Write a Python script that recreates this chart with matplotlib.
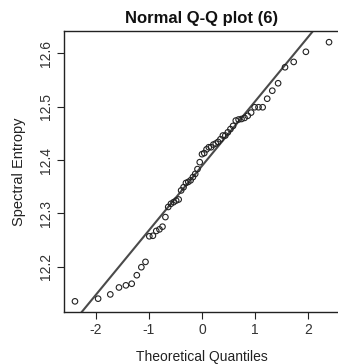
import matplotlib
matplotlib.use("Agg")
import matplotlib.pyplot as plt
import numpy as np
from statistics import NormalDist

plt.rcParams['font.family'] = ['Liberation Sans', 'DejaVu Sans']

title = "Normal Q-Q plot (6)"
xlabel = "Theoretical Quantiles"
ylabel = "Spectral Entropy"

sample = [12.135, 12.140, 12.148, 12.161, 12.165, 12.168, 12.184, 12.199, 12.209, 12.257,
          12.258, 12.267, 12.270, 12.275, 12.293, 12.312, 12.318, 12.321, 12.324, 12.326,
          12.343, 12.349, 12.357, 12.359, 12.362, 12.368, 12.374, 12.383, 12.396, 12.411,
          12.413, 12.420, 12.424, 12.424, 12.429, 12.431, 12.434, 12.439, 12.446, 12.446,
          12.452, 12.458, 12.464, 12.474, 12.476, 12.477, 12.479, 12.483, 12.489, 12.499,
          12.499, 12.499, 12.515, 12.530, 12.544, 12.574, 12.584, 12.603, 12.621]

line_intercept = 12.389
line_slope = 0.1212

xticks = [-2, -1, 0, 1, 2]
yticks = [12.2, 12.3, 12.4, 12.5, 12.6]

n = len(sample)
nd = NormalDist()
theo = [nd.inv_cdf((i + 0.5) / n) for i in range(n)]
ys = sorted(sample)

fig = plt.figure(figsize=(3.38, 3.64), dpi=100)
ax = fig.add_axes([64/338, 1 - 312/364, 276/338, 281/364])

ax.scatter(theo, ys, s=16, facecolors='none', edgecolors='#222222', linewidths=0.8, zorder=3)
ax.axline((0, line_intercept), slope=line_slope, color='#4a4a4a', lw=1.5, zorder=2)

ax.set_xlim(-2.594, 2.594)
ax.set_ylim(12.115, 12.642)
ax.set_xticks(xticks)
ax.set_xticklabels([str(t) for t in xticks])
ax.set_yticks(yticks)
ax.set_yticklabels([f"{t:.1f}" for t in yticks], rotation=90, va='center')
ax.tick_params(axis='both', direction='out', length=5, width=0.8, colors='#222222',
               labelsize=10, labelcolor='#333333', pad=3)
for s in ax.spines.values():
    s.set_linewidth(1.0)
    s.set_color('#222222')

ax.set_title(title, fontsize=12, fontweight='bold', pad=6, color='#111111')
ax.set_xlabel(xlabel, fontsize=10, color='#222222', labelpad=9)
ax.set_ylabel(ylabel, fontsize=10.5, color='#222222', labelpad=9)

fig.savefig("out.png", dpi=100)
